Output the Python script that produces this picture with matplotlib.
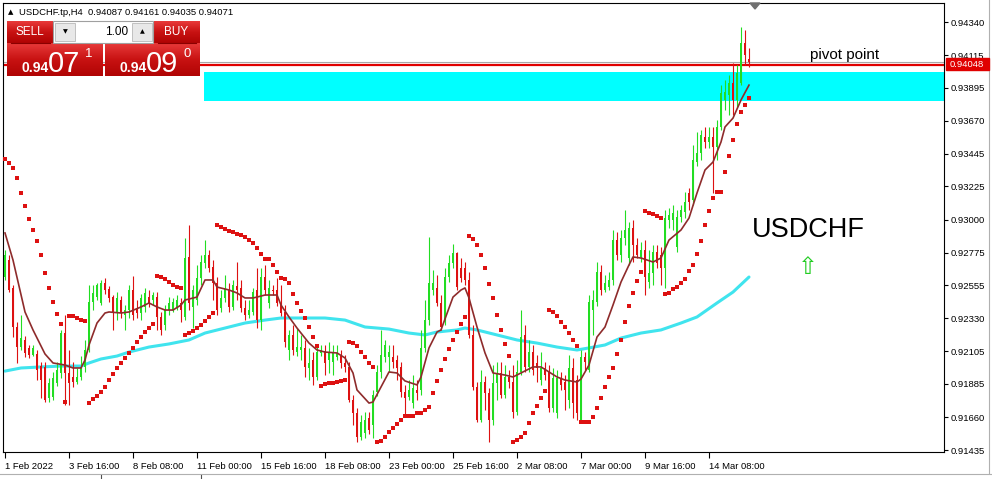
import matplotlib
matplotlib.use("Agg")
import matplotlib.pyplot as plt
import numpy as np
from matplotlib.patches import Rectangle, Polygon
from matplotlib.colors import LinearSegmentedColormap

plt.rcParams['font.family'] = ['Liberation Sans', 'DejaVu Sans']

# USDCHF H4 candles, bar 0 = 1 Feb 2022 00:00
opens = [
    0.92610, 0.92725, 0.92536, 0.92271, 0.92135, 0.92183, 0.92129, 0.92081, 0.92088, 0.92006,
    0.92000, 0.91789, 0.91796, 0.91891, 0.91959, 0.92230, 0.91959, 0.91932, 0.91898, 0.91932,
    0.92000, 0.92115, 0.92441, 0.92474, 0.92434, 0.92569, 0.92529, 0.92474, 0.92366, 0.92454,
    0.92352, 0.92386, 0.92522, 0.92400, 0.92366, 0.92407, 0.92474, 0.92454, 0.92474, 0.92339,
    0.92285, 0.92386, 0.92386, 0.92407, 0.92434, 0.92339, 0.92746, 0.92407, 0.92454, 0.92603,
    0.92705, 0.92759, 0.92678, 0.92569, 0.92400, 0.92468, 0.92522, 0.92407, 0.92549, 0.92536,
    0.92400, 0.92352, 0.92373, 0.92522, 0.92318, 0.92610, 0.92434, 0.92522, 0.92522, 0.92434,
    0.92373, 0.92115, 0.92217, 0.92101, 0.92115, 0.92129, 0.91993, 0.92047, 0.91932, 0.92095,
    0.92108, 0.92047, 0.92034, 0.92068, 0.92074, 0.92027, 0.92000, 0.91776, 0.91688, 0.91525,
    0.91552, 0.91654, 0.91606, 0.91830, 0.91966, 0.92068, 0.92068, 0.92068, 0.92047, 0.92000,
    0.91830, 0.91796, 0.91755, 0.91844, 0.91844, 0.92129, 0.92318, 0.92522, 0.92536, 0.92434,
    0.92318, 0.92610, 0.92705, 0.92773, 0.92671, 0.92671, 0.92590, 0.92217, 0.91864, 0.91640,
    0.91898, 0.91823, 0.91640, 0.91891, 0.91959, 0.91810, 0.91932, 0.91898, 0.91694, 0.91966,
    0.92217, 0.92000, 0.92101, 0.92027, 0.91911, 0.91993, 0.91966, 0.91721, 0.91688, 0.91925,
    0.91898, 0.91776, 0.91993, 0.91911, 0.91640, 0.92068, 0.91979, 0.92386, 0.92441, 0.92644,
    0.92522, 0.92542, 0.92590, 0.92861, 0.92759, 0.92875, 0.92739, 0.92942, 0.92827, 0.92746,
    0.92793, 0.92576, 0.92637, 0.92780, 0.92759, 0.92671, 0.92997, 0.92997, 0.92814, 0.93017,
    0.93051, 0.93180, 0.93132, 0.93390, 0.93451, 0.93560, 0.93526, 0.93560, 0.93492, 0.93628,
    0.93811, 0.93845, 0.93926, 0.93811, 0.93926, 0.94197, 0.94087]
highs = [
    0.92793, 0.92759, 0.92556, 0.92305, 0.92352, 0.92210, 0.92149, 0.92149, 0.92115, 0.92034,
    0.92034, 0.91925, 0.91966, 0.92034, 0.92251, 0.92352, 0.92115, 0.92034, 0.91993, 0.92074,
    0.92183, 0.92556, 0.92556, 0.92569, 0.92590, 0.92603, 0.92549, 0.92488, 0.92508, 0.92481,
    0.92420, 0.92556, 0.92617, 0.92454, 0.92495, 0.92536, 0.92522, 0.92508, 0.92508, 0.92373,
    0.92420, 0.92474, 0.92468, 0.92488, 0.92468, 0.92875, 0.92963, 0.92556, 0.92692, 0.92759,
    0.92861, 0.92793, 0.92725, 0.92610, 0.92522, 0.92624, 0.92569, 0.92590, 0.92712, 0.92590,
    0.92454, 0.92454, 0.92536, 0.92671, 0.92671, 0.92692, 0.92590, 0.92556, 0.92603, 0.92556,
    0.92420, 0.92251, 0.92285, 0.92264, 0.92217, 0.92183, 0.92129, 0.92101, 0.92149, 0.92149,
    0.92149, 0.92169, 0.92149, 0.92149, 0.92115, 0.92081, 0.92034, 0.91810, 0.91721, 0.91674,
    0.91694, 0.91694, 0.91844, 0.92013, 0.92251, 0.92183, 0.92149, 0.92149, 0.92081, 0.92034,
    0.91878, 0.91911, 0.91945, 0.91911, 0.92251, 0.92454, 0.92881, 0.92658, 0.92624, 0.92488,
    0.92671, 0.92759, 0.92834, 0.92780, 0.92739, 0.92712, 0.92644, 0.92285, 0.91898, 0.91979,
    0.91939, 0.91857, 0.92013, 0.92034, 0.92034, 0.92013, 0.91979, 0.92013, 0.92047, 0.92386,
    0.92285, 0.92183, 0.92149, 0.92081, 0.92101, 0.92034, 0.92013, 0.91993, 0.91979, 0.91966,
    0.91945, 0.92081, 0.92061, 0.91945, 0.92115, 0.92101, 0.92488, 0.92522, 0.92712, 0.92692,
    0.92624, 0.92644, 0.92929, 0.92915, 0.92929, 0.93065, 0.92983, 0.92997, 0.92875, 0.92848,
    0.92861, 0.92793, 0.92827, 0.92827, 0.92814, 0.93065, 0.93078, 0.93098, 0.93065, 0.93098,
    0.93187, 0.93214, 0.93505, 0.93594, 0.93607, 0.93628, 0.93628, 0.93628, 0.93675, 0.93912,
    0.93946, 0.93980, 0.94062, 0.94048, 0.94306, 0.94286, 0.94161]
lows = [
    0.92590, 0.92508, 0.92203, 0.92027, 0.92115, 0.92068, 0.92061, 0.92074, 0.91911, 0.91789,
    0.91762, 0.91762, 0.91776, 0.91871, 0.91925, 0.91742, 0.91742, 0.91864, 0.91884, 0.91911,
    0.91966, 0.92101, 0.92386, 0.92454, 0.92420, 0.92495, 0.92441, 0.92251, 0.92318, 0.92332,
    0.92251, 0.92332, 0.92318, 0.92332, 0.92318, 0.92373, 0.92407, 0.92420, 0.92251, 0.92217,
    0.92251, 0.92352, 0.92373, 0.92386, 0.92305, 0.92318, 0.92386, 0.92264, 0.92420, 0.92556,
    0.92671, 0.92644, 0.92454, 0.92352, 0.92373, 0.92441, 0.92373, 0.92386, 0.92454, 0.92373,
    0.92318, 0.92332, 0.92352, 0.92264, 0.92251, 0.92488, 0.92400, 0.92488, 0.92413, 0.92346,
    0.92135, 0.92047, 0.92081, 0.92074, 0.92047, 0.91932, 0.91911, 0.91878, 0.91911, 0.92074,
    0.91945, 0.91959, 0.91945, 0.92047, 0.91993, 0.91966, 0.91762, 0.91606, 0.91491, 0.91504,
    0.91518, 0.91545, 0.91518, 0.91803, 0.91925, 0.92034, 0.91966, 0.91993, 0.91911, 0.91796,
    0.91660, 0.91776, 0.91721, 0.91776, 0.91810, 0.92101, 0.92285, 0.92488, 0.92413, 0.92251,
    0.92285, 0.92576, 0.92671, 0.92522, 0.92576, 0.92556, 0.92196, 0.91844, 0.91627, 0.91627,
    0.91708, 0.91491, 0.91606, 0.91776, 0.91789, 0.91789, 0.91857, 0.91654, 0.91674, 0.91945,
    0.91966, 0.91966, 0.91945, 0.91898, 0.91878, 0.91911, 0.91694, 0.91694, 0.91654, 0.91844,
    0.91708, 0.91721, 0.91654, 0.91640, 0.91627, 0.91979, 0.91966, 0.92217, 0.92413, 0.92488,
    0.92508, 0.92522, 0.92556, 0.92725, 0.92712, 0.92827, 0.92692, 0.92712, 0.92739, 0.92712,
    0.92488, 0.92536, 0.92556, 0.92671, 0.92556, 0.92536, 0.92942, 0.92929, 0.92780, 0.92983,
    0.93010, 0.93065, 0.93098, 0.93363, 0.93404, 0.93485, 0.93485, 0.93180, 0.93404, 0.93607,
    0.93743, 0.93709, 0.93709, 0.93756, 0.93912, 0.94048, 0.94035]
closes = [
    0.92759, 0.92522, 0.92271, 0.92135, 0.92196, 0.92095, 0.92081, 0.92129, 0.91979, 0.91911,
    0.91776, 0.91891, 0.91925, 0.91979, 0.92230, 0.91959, 0.91891, 0.91898, 0.91932, 0.92000,
    0.92115, 0.92441, 0.92502, 0.92556, 0.92569, 0.92522, 0.92468, 0.92366, 0.92468, 0.92366,
    0.92386, 0.92522, 0.92352, 0.92366, 0.92468, 0.92502, 0.92434, 0.92488, 0.92339, 0.92251,
    0.92386, 0.92434, 0.92441, 0.92454, 0.92386, 0.92739, 0.92434, 0.92522, 0.92603, 0.92712,
    0.92759, 0.92671, 0.92569, 0.92386, 0.92468, 0.92536, 0.92407, 0.92556, 0.92522, 0.92400,
    0.92352, 0.92386, 0.92508, 0.92318, 0.92610, 0.92522, 0.92536, 0.92515, 0.92434, 0.92366,
    0.92169, 0.92217, 0.92115, 0.92135, 0.92135, 0.92000, 0.92027, 0.91932, 0.92101, 0.92115,
    0.92027, 0.92095, 0.92101, 0.92095, 0.92027, 0.92000, 0.91776, 0.91688, 0.91525, 0.91627,
    0.91640, 0.91572, 0.91810, 0.91966, 0.92081, 0.92149, 0.92101, 0.92034, 0.91993, 0.91830,
    0.91789, 0.91844, 0.91857, 0.91823, 0.92129, 0.92318, 0.92569, 0.92569, 0.92434, 0.92271,
    0.92610, 0.92705, 0.92773, 0.92542, 0.92603, 0.92590, 0.92217, 0.91864, 0.91640, 0.91898,
    0.91823, 0.91640, 0.91891, 0.91959, 0.91810, 0.91932, 0.91898, 0.91694, 0.91966, 0.92203,
    0.92000, 0.92101, 0.91979, 0.91993, 0.91993, 0.91945, 0.91721, 0.91925, 0.91925, 0.91878,
    0.91844, 0.91993, 0.91755, 0.91688, 0.92068, 0.92034, 0.92441, 0.92454, 0.92644, 0.92522,
    0.92569, 0.92590, 0.92861, 0.92759, 0.92875, 0.92929, 0.92942, 0.92827, 0.92759, 0.92793,
    0.92610, 0.92637, 0.92780, 0.92705, 0.92671, 0.93010, 0.93031, 0.93044, 0.93017, 0.93065,
    0.93119, 0.93119, 0.93404, 0.93451, 0.93573, 0.93526, 0.93560, 0.93492, 0.93628, 0.93858,
    0.93865, 0.93926, 0.93811, 0.93994, 0.94197, 0.94116, 0.94071]

# parabolic SAR, one dot per bar
sar = [
    0.93411, 0.93383, 0.93349, 0.93282, 0.93180, 0.93092, 0.93004, 0.92929, 0.92854, 0.92759,
    0.92637, 0.92536, 0.92441, 0.92359, 0.92291, 0.91762, 0.92346, 0.92346, 0.92332, 0.92318,
    0.92312, 0.91755, 0.91783, 0.91803, 0.91830, 0.91864, 0.91911, 0.91952, 0.91993, 0.92027,
    0.92061, 0.92095, 0.92129, 0.92169, 0.92203, 0.92237, 0.92264, 0.92291, 0.92617, 0.92610,
    0.92597, 0.92576, 0.92556, 0.92542, 0.92536, 0.92217, 0.92230, 0.92244, 0.92264, 0.92285,
    0.92312, 0.92339, 0.92366, 0.92963, 0.92949, 0.92936, 0.92922, 0.92915, 0.92902, 0.92895,
    0.92881, 0.92861, 0.92841, 0.92807, 0.92766, 0.92732, 0.92732, 0.92692, 0.92644, 0.92603,
    0.92597, 0.92569, 0.92495, 0.92434, 0.92380, 0.92332, 0.92271, 0.92203, 0.92142, 0.91871,
    0.91884, 0.91891, 0.91891, 0.91898, 0.91905, 0.91911, 0.92169, 0.92162, 0.92142, 0.92101,
    0.92068, 0.92027, 0.92000, 0.91491, 0.91498, 0.91525, 0.91559, 0.91586, 0.91613, 0.91640,
    0.91667, 0.91667, 0.91667, 0.91688, 0.91688, 0.91708, 0.91728, 0.91823, 0.91905, 0.91979,
    0.92054, 0.92122, 0.92183, 0.92237, 0.92291, 0.92339, 0.92888, 0.92868, 0.92827, 0.92759,
    0.92671, 0.92563, 0.92468, 0.92352, 0.92251, 0.92156, 0.92074, 0.91491, 0.91504, 0.91525,
    0.91552, 0.91620, 0.91688, 0.91735, 0.91789, 0.91837, 0.92386, 0.92373, 0.92346, 0.92305,
    0.92271, 0.92230, 0.92183, 0.92142, 0.91627, 0.91627, 0.91627, 0.91660, 0.91721, 0.91789,
    0.91864, 0.91932, 0.91993, 0.92088, 0.92183, 0.92305, 0.92413, 0.92502, 0.92583, 0.92644,
    0.93058, 0.93044, 0.93037, 0.93024, 0.93010, 0.92495, 0.92502, 0.92529, 0.92542, 0.92569,
    0.92597, 0.92651, 0.92692, 0.92766, 0.92854, 0.92963, 0.93058, 0.93146, 0.93187, 0.93187,
    0.93322, 0.93431, 0.93540, 0.93648, 0.93729, 0.93777, 0.93824]

# short moving average (brown), read at these bars
ma_bars = [0, 2, 5, 7, 10, 12, 15, 17, 19, 20,
           21, 23, 25, 26, 29, 31, 34, 36, 38, 40,
           42, 44, 45, 48, 50, 52, 53, 56, 58, 60,
           62, 63, 65, 68, 69, 71, 73, 76, 78, 80,
           83, 85, 87, 88, 91, 92, 94, 96, 98, 100,
           103, 104, 106, 108, 109, 111, 112, 114, 115, 116,
           118, 120, 122, 125, 127, 130, 132, 134, 136, 138,
           140, 143, 144, 146, 148, 150, 152, 154, 156, 157,
           159, 162, 164, 166, 169, 171, 173, 175, 177, 179,
           180, 182, 184, 186]
ma_vals = [0.92909, 0.92725, 0.92373, 0.92251, 0.92088, 0.92027, 0.92013, 0.91993, 0.91993, 0.92047,
           0.92149, 0.92298, 0.92366, 0.92373, 0.92366, 0.92373, 0.92407, 0.92434, 0.92407, 0.92386,
           0.92386, 0.92420, 0.92454, 0.92474, 0.92590, 0.92590, 0.92542, 0.92522, 0.92502, 0.92468,
           0.92468, 0.92474, 0.92488, 0.92488, 0.92420, 0.92339, 0.92264, 0.92162, 0.92115, 0.92101,
           0.92095, 0.92061, 0.91959, 0.91844, 0.91755, 0.91762, 0.91864, 0.91966, 0.91959, 0.91905,
           0.91878, 0.91932, 0.92129, 0.92237, 0.92251, 0.92400, 0.92474, 0.92522, 0.92536, 0.92468,
           0.92271, 0.92095, 0.91959, 0.91945, 0.91932, 0.91973, 0.92000, 0.92000, 0.91966, 0.91932,
           0.91911, 0.91898, 0.91918, 0.92013, 0.92203, 0.92271, 0.92420, 0.92576, 0.92692, 0.92746,
           0.92739, 0.92712, 0.92739, 0.92861, 0.92929, 0.93010, 0.93180, 0.93336, 0.93390, 0.93526,
           0.93628, 0.93688, 0.93811, 0.93912]

# long moving average (cyan)
slow_bars = [0, 4, 9, 14, 19, 21, 24, 28, 31, 36, 41, 46, 50, 55, 60, 65, 69, 75, 80, 85,
             90, 96, 101, 105, 108, 113, 115, 118, 123, 128, 133, 138, 143, 146, 150, 154,
             159, 164, 169, 173, 178, 182, 186]
slow_vals = [0.91972, 0.91993, 0.92000, 0.92006, 0.92006, 0.92027, 0.92054, 0.92074, 0.92101, 0.92135,
             0.92156, 0.92183, 0.92230, 0.92264, 0.92298, 0.92318, 0.92332, 0.92332, 0.92332, 0.92318,
             0.92271, 0.92257, 0.92230, 0.92217, 0.92237, 0.92251, 0.92264, 0.92251, 0.92217, 0.92183,
             0.92162, 0.92135, 0.92115, 0.92129, 0.92149, 0.92196, 0.92230, 0.92251, 0.92298, 0.92339,
             0.92434, 0.92508, 0.92610]

tick_bars = [0, 16, 32, 48, 64, 80, 96, 112, 128, 144, 160, 176]
tick_labels = ['1 Feb 2022', '3 Feb 16:00', '8 Feb 08:00', '11 Feb 00:00', '15 Feb 16:00',
               '18 Feb 08:00', '23 Feb 00:00', '25 Feb 16:00', '2 Mar 08:00', '7 Mar 00:00',
               '9 Mar 16:00', '14 Mar 08:00']
price_ticks = [0.94340, 0.94115, 0.93895, 0.93670, 0.93445, 0.93225, 0.93000, 0.92775,
               0.92555, 0.92330, 0.92105, 0.91885, 0.91660, 0.91435]

pivot = 0.94048
zone_low, zone_high = 0.93805, 0.94000
zone_start = 49.75

GREEN = '#22dd22'
RED = '#dd1111'

W, H = 992, 479
fig = plt.figure(figsize=(W / 100, H / 100), dpi=100)
ax = fig.add_axes([3 / W, 1 - 452 / H, 941 / W, 449 / H])
ax.set_xlim(-0.5, 234.75)
ax.set_ylim(0.91423, 0.94469)

o = np.array(opens)
c = np.array(closes)
x = np.arange(len(o))
cols = np.where(c >= o, GREEN, RED)

ax.fill_between([zone_start, 240], zone_low, zone_high, color='#00ffff', lw=0, zorder=0)
ax.axhline(closes[-1], color='#a8a8a8', lw=0.8, zorder=1)
ax.axhline(pivot, color='#e00000', lw=1.6, zorder=1)

ax.plot(slow_bars, slow_vals, color='#40e4ee', lw=2.2, solid_capstyle='round', zorder=2)
ax.vlines(x, lows, highs, colors=cols, lw=0.8, zorder=3)
ax.bar(x, np.abs(c - o), bottom=np.minimum(o, c), width=0.72, color=cols, lw=0, zorder=3)
ax.plot(ma_bars, ma_vals, color='#8e2b2b', lw=1.2, zorder=4)
ax.plot(x, sar, 's', color=RED, ms=2.3, mew=0, zorder=5)

ax.text(201.25, 0.94116, 'pivot point', fontsize=11, va='center', ha='left')
ax.text(186.75, 0.92929, 'USDCHF', fontsize=19.5, va='center', ha='left')
ax.text(200.75, 0.92678, '\u21e7', fontsize=17, va='center', ha='center', color='#22cc22',
        family=['DejaVu Sans'])

ax.yaxis.tick_right()
ax.set_yticks(price_ticks)
ax.set_yticklabels(['%.5f' % v for v in price_ticks])
ax.tick_params(axis='y', direction='out', length=3, width=0.8, labelsize=6.8, pad=2)
ax.set_xticks(tick_bars)
ax.set_xticklabels(tick_labels, ha='left')
ax.tick_params(axis='x', direction='out', length=4, width=0.8, labelsize=6.8, pad=3)
for s in ax.spines.values():
    s.set_color('black')
    s.set_linewidth(0.8)

# terminal decorations in pixel coordinates
ui = fig.add_axes([0, 0, 1, 1], facecolor='none')

ui.add_patch(Rectangle((946, 58), 43, 12, color='#e00000', zorder=5))
ui.text(950, 64.5, '%.5f' % pivot, color='white', fontsize=6.8, va='center', zorder=6)
ui.add_patch(Polygon([(750, 3), (760, 3), (755, 9)], color='#707070'))

ui.text(8, 12.5, '\u25b2', fontsize=5, va='center', family=['DejaVu Sans'])
ui.text(19, 12.5, 'USDCHF.tp,H4  0.94087 0.94161 0.94035 0.94071', fontsize=6.8, va='center')

# one-click trading panel with a light-to-dark red gradient
grad = LinearSegmentedColormap.from_list('panel', ['#e83a3a', '#c81212', '#b00404'])
shade = np.linspace(0, 1, 64).reshape(-1, 1)
for x0, y0, w, h in ((7, 21, 46, 22), (154, 21, 46, 22), (7, 43, 96, 33), (105, 43, 95, 33)):
    ui.imshow(shade, cmap=grad, extent=(x0, x0 + w, y0 + h, y0), aspect='auto',
              interpolation='bilinear', origin='upper', zorder=1)
ui.plot([11, 50], [42.5, 42.5], color='#8a0000', lw=0.8, zorder=2)
ui.plot([158, 196], [42.5, 42.5], color='#8a0000', lw=0.8, zorder=2)
ui.add_patch(Rectangle((53, 21), 100, 22, facecolor='white', edgecolor='#a0a0a0', lw=0.8, zorder=2))
ui.add_patch(Rectangle((55, 23), 20, 18, facecolor='#e8e8e8', edgecolor='#b8b8b8', lw=0.6, zorder=3))
ui.add_patch(Rectangle((132, 23), 20, 18, facecolor='#e8e8e8', edgecolor='#b8b8b8', lw=0.6, zorder=3))
ui.text(65, 32, '\u25bc', fontsize=4.5, ha='center', va='center', family=['DejaVu Sans'], zorder=4)
ui.text(142, 32, '\u25b2', fontsize=4.5, ha='center', va='center', family=['DejaVu Sans'], zorder=4)
ui.text(128, 32, '1.00', fontsize=8.5, ha='right', va='center', zorder=4)
ui.text(30, 32, 'SELL', fontsize=8.5, color='white', ha='center', va='center', zorder=4)
ui.text(176, 32, 'BUY', fontsize=8.5, color='white', ha='center', va='center', zorder=4)
for x0, big, small in ((21, '07', '1'), (119, '09', '0')):
    ui.text(x0, 71.5, '0.94', fontsize=10, fontweight='bold', color='white', va='baseline', zorder=4)
    ui.text(x0 + 27, 71.5, big, fontsize=21, color='white', va='baseline', zorder=4)
    ui.text(x0 + 64, 57, small, fontsize=9.5, color='white', va='baseline', zorder=4)

ui.plot([0, W], [473.5, 473.5], color='#b0b0b0', lw=0.8)
ui.plot([988.5, 988.5], [0, 473], color='#b0b0b0', lw=0.8)
for xs in (101, 201):
    ui.plot([xs, xs], [475, 479], color='#505050', lw=0.8)

ui.set_xlim(0, W)
ui.set_ylim(H, 0)
ui.axis('off')

fig.savefig('out.png', dpi=100)
